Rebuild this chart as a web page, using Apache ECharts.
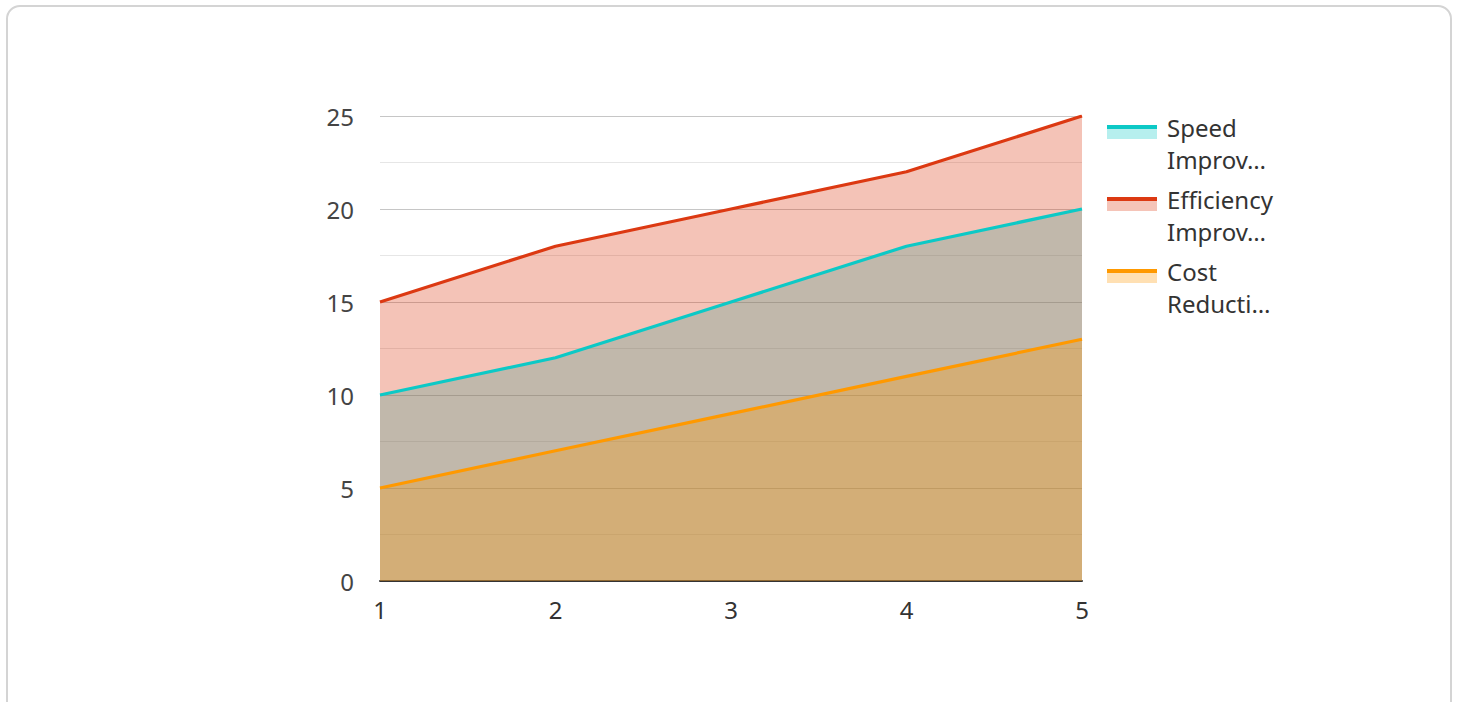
<!DOCTYPE html>
<html>
<head>
<meta charset="utf-8">
<script src="https://cdn.jsdelivr.net/npm/echarts@6/dist/echarts.min.js"></script>
<style>
  html, body { margin: 0; padding: 0; background: #ffffff; }
  #card {
    position: absolute; left: 6px; top: 5px; width: 1446px; height: 730px;
    border: 2px solid #d4d4d4; border-radius: 14px; box-sizing: border-box; background: #fff;
  }
  #chart { position: absolute; left: 0; top: 0; width: 1458px; height: 702px; }
</style>
</head>
<body>
<div id="card"></div>
<div id="chart"></div>
<script>
// Category labels along the x axis
const categories = ['1', '2', '3', '4', '5'];

// Series names and values
const seriesNames = ['Speed Improvement', 'Efficiency Improvement', 'Cost Reduction'];
const legendLabels = ['Speed\nImprov\u2026', 'Efficiency\nImprov\u2026', 'Cost\nReducti\u2026'];
const speedValues = [10, 12, 15, 18, 20];
const efficiencyValues = [15, 18, 20, 22, 25];
const costValues = [5, 7, 9, 11, 13];

// Y axis ticks
const yTicks = [0, 5, 10, 15, 20, 25];

const seriesValues = [speedValues, efficiencyValues, costValues];
const lineColors = ['#0cc9c6', '#dc3912', '#ff9900'];
const areaOpacity = 0.3;
const FONT = '"Noto Sans", "Open Sans", sans-serif';

function lighten(hex, a) {
  const n = parseInt(hex.slice(1), 16);
  const r = (n >> 16) & 255, g = (n >> 8) & 255, b = n & 255;
  const mix = c => Math.round(255 - a * (255 - c));
  return 'rgb(' + mix(r) + ',' + mix(g) + ',' + mix(b) + ')';
}

const chart = echarts.init(document.getElementById('chart'), null, { renderer: 'svg' });

// Filled areas first, then the outlines above every fill
const areaSeries = seriesNames.map((name, i) => ({
  name: name,
  type: 'line',
  data: seriesValues[i],
  showSymbol: false,
  symbol: 'none',
  z: 2,
  lineStyle: { width: 0, color: lineColors[i] },
  itemStyle: { color: lineColors[i] },
  areaStyle: { color: lineColors[i], opacity: areaOpacity },
  silent: true
}));
const lineSeries = seriesNames.map((name, i) => ({
  name: name,
  type: 'line',
  data: seriesValues[i],
  showSymbol: false,
  symbol: 'none',
  z: 3,
  lineStyle: { width: 3.2, color: lineColors[i] },
  itemStyle: { color: lineColors[i] }
}));

// Legend swatches: a solid band over a pale block, with two-line labels
const legendX = 1107, legendTop = 125, legendStep = 72;
const legendGraphics = [];
seriesNames.forEach((name, i) => {
  const y = legendTop + i * legendStep;
  legendGraphics.push({
    type: 'rect', left: legendX, top: y + 4,
    shape: { width: 50, height: 10 },
    style: { fill: lighten(lineColors[i], areaOpacity) }
  });
  legendGraphics.push({
    type: 'rect', left: legendX, top: y,
    shape: { width: 50, height: 4 },
    style: { fill: lineColors[i] }
  });
  legendGraphics.push({
    type: 'text', left: 1167, top: y - 14,
    style: {
      text: legendLabels[i], fill: '#333', fontSize: 24, lineHeight: 32,
      fontFamily: FONT
    }
  });
});

chart.setOption({
  animation: false,
  backgroundColor: 'transparent',
  grid: { left: 380, top: 116, width: 702, height: 465, containLabel: false },
  xAxis: {
    type: 'category',
    data: categories,
    boundaryGap: false,
    axisTick: { show: false },
    axisLine: { show: true, lineStyle: { color: '#333', width: 2 } },
    axisLabel: { color: '#333', fontSize: 24, fontFamily: FONT, margin: 16 },
    splitLine: { show: false }
  },
  yAxis: {
    type: 'value',
    min: yTicks[0],
    max: yTicks[yTicks.length - 1],
    interval: yTicks[1] - yTicks[0],
    axisLine: { show: false },
    axisTick: { show: false },
    axisLabel: { color: '#444', fontSize: 24, fontFamily: FONT, margin: 26 },
    splitLine: { show: true, lineStyle: { color: '#c6c6c6', width: 1 } },
    minorTick: { show: false, splitNumber: 2 },
    minorSplitLine: { show: true, lineStyle: { color: '#e6e6e6', width: 1 } }
  },
  series: areaSeries.concat(lineSeries),
  graphic: legendGraphics
});
</script>
</body>
</html>
